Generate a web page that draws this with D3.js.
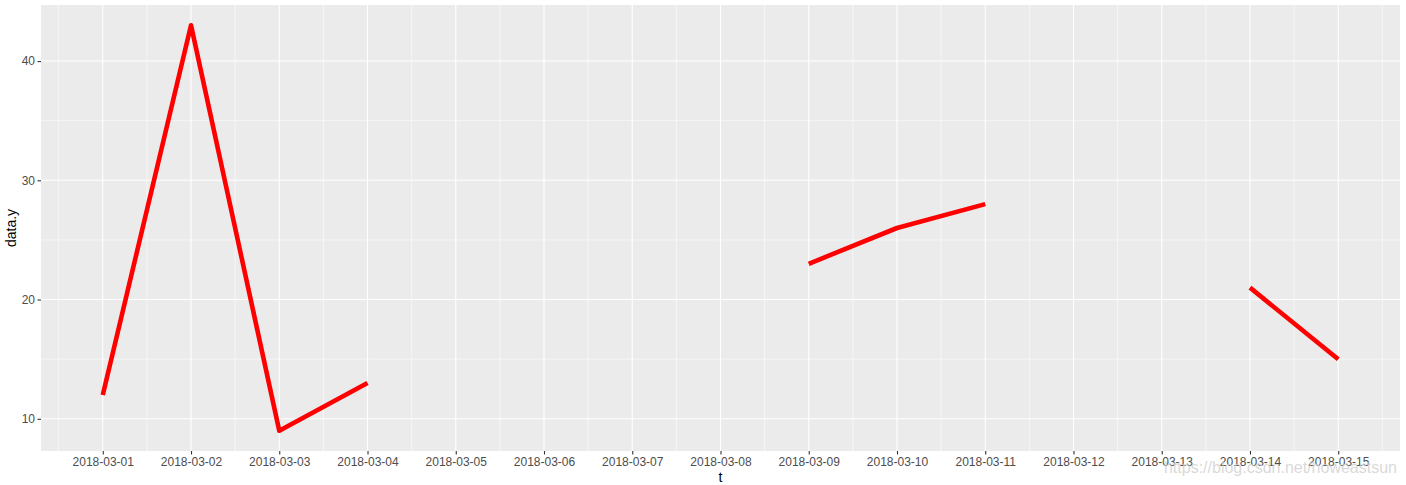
<!DOCTYPE html>
<html>
<head>
<meta charset="utf-8">
<script src="https://cdn.jsdelivr.net/npm/d3@7"></script>
<style>
  body { margin: 0; background: #fff; }
  svg { display: block; font-family: "Liberation Sans", Arial, sans-serif; }
</style>
</head>
<body>
<div id="chart"></div>
<script>
// data, null = missing value (gap in the line)
const dates = ['2018-03-01', '2018-03-02', '2018-03-03', '2018-03-04', '2018-03-05',
  '2018-03-06', '2018-03-07', '2018-03-08', '2018-03-09', '2018-03-10',
  '2018-03-11', '2018-03-12', '2018-03-13', '2018-03-14', '2018-03-15'];
const values = [12, 43, 9, 13, null, null, null, null, 23, 26, 28, null, null, 21, 15];
const yTicks = [10, 20, 30, 40];
const yMinor = [15, 25, 35];

const width = 1406;
const height = 485;
const margin = { top: 5, right: 6, bottom: 34, left: 41 };

const parse = d3.utcParse('%Y-%m-%d');
const data = dates.map((d, i) => ({ t: parse(d), y: values[i] }));
const DAY = 864e5;

const svg = d3.select('#chart').append('svg')
  .attr('width', width)
  .attr('height', height);

// ggplot style 5% expansion
const tExt = d3.extent(data, (d) => d.t);
const tPad = (tExt[1] - tExt[0]) * 0.05;
const x = d3.scaleUtc()
  .domain([new Date(+tExt[0] - tPad), new Date(+tExt[1] + tPad)])
  .range([margin.left, width - margin.right]);

const yVals = values.filter((v) => v !== null);
const yMin = d3.min(yVals), yMax = d3.max(yVals);
const yPad = (yMax - yMin) * 0.05;
const y = d3.scaleLinear()
  .domain([yMin - yPad, yMax + yPad])
  .range([height - margin.bottom, margin.top]);

// panel
svg.append('rect')
  .attr('x', margin.left)
  .attr('y', margin.top)
  .attr('width', width - margin.left - margin.right)
  .attr('height', height - margin.top - margin.bottom)
  .attr('fill', '#EBEBEB');

const grid = svg.append('g').attr('class', 'grid');
const xMinor = d3.range(-1, dates.length).map((i) => new Date(+data[0].t + i * DAY + DAY / 2));

grid.selectAll('.xminor').data(xMinor).enter().append('line')
  .attr('x1', (d) => x(d)).attr('x2', (d) => x(d))
  .attr('y1', margin.top).attr('y2', height - margin.bottom)
  .attr('stroke', '#fff').attr('stroke-width', 0.55);

grid.selectAll('.yminor').data(yMinor).enter().append('line')
  .attr('x1', margin.left).attr('x2', width - margin.right)
  .attr('y1', (d) => y(d)).attr('y2', (d) => y(d))
  .attr('stroke', '#fff').attr('stroke-width', 0.55);

grid.selectAll('.xmajor').data(data).enter().append('line')
  .attr('x1', (d) => x(d.t)).attr('x2', (d) => x(d.t))
  .attr('y1', margin.top).attr('y2', height - margin.bottom)
  .attr('stroke', '#fff').attr('stroke-width', 1.1);

grid.selectAll('.ymajor').data(yTicks).enter().append('line')
  .attr('x1', margin.left).attr('x2', width - margin.right)
  .attr('y1', (d) => y(d)).attr('y2', (d) => y(d))
  .attr('stroke', '#fff').attr('stroke-width', 1.1);

// the line, with gaps for missing values
const line = d3.line()
  .defined((d) => d.y !== null)
  .x((d) => x(d.t))
  .y((d) => y(d.y));

svg.append('path')
  .datum(data)
  .attr('d', line)
  .attr('fill', 'none')
  .attr('stroke', '#FF0000')
  .attr('stroke-width', 4.6)
  .attr('stroke-linejoin', 'round')
  .attr('stroke-linecap', 'butt');

// axes
const xAxis = d3.axisBottom(x)
  .tickValues(data.map((d) => d.t))
  .tickFormat(d3.utcFormat('%Y-%m-%d'))
  .tickSizeInner(3.5).tickSizeOuter(0).tickPadding(2.5);

const gx = svg.append('g')
  .attr('transform', `translate(0,${height - margin.bottom})`)
  .call(xAxis);

const yAxis = d3.axisLeft(y)
  .tickValues(yTicks)
  .tickSizeInner(3.5).tickSizeOuter(0).tickPadding(2.5);

const gy = svg.append('g')
  .attr('transform', `translate(${margin.left},0)`)
  .call(yAxis);

[gx, gy].forEach((g) => {
  g.select('.domain').remove();
  g.selectAll('.tick line').attr('stroke', '#333333').attr('stroke-width', 1.1);
  g.selectAll('.tick text')
    .attr('fill', '#4D4D4D')
    .style('font-size', '12px')
    .style('font-family', '"Liberation Sans", Arial, sans-serif');
});

// axis titles
svg.append('text')
  .attr('x', margin.left + (width - margin.left - margin.right) / 2)
  .attr('y', 482)
  .attr('text-anchor', 'middle')
  .attr('fill', '#000')
  .style('font-size', '14px')
  .text('t');

svg.append('text')
  .attr('transform', `translate(16,${margin.top + (height - margin.top - margin.bottom) / 2}) rotate(-90)`)
  .attr('text-anchor', 'middle')
  .attr('fill', '#000')
  .style('font-size', '14px')
  .text('data.y');

// watermark
svg.append('text')
  .attr('x', 1397)
  .attr('y', 473)
  .attr('text-anchor', 'end')
  .attr('fill', '#cfcfcf')
  .attr('fill-opacity', 0.8)
  .style('font-size', '16px')
  .text('https://blog.csdn.net/howeastsun');
</script>
</body>
</html>
